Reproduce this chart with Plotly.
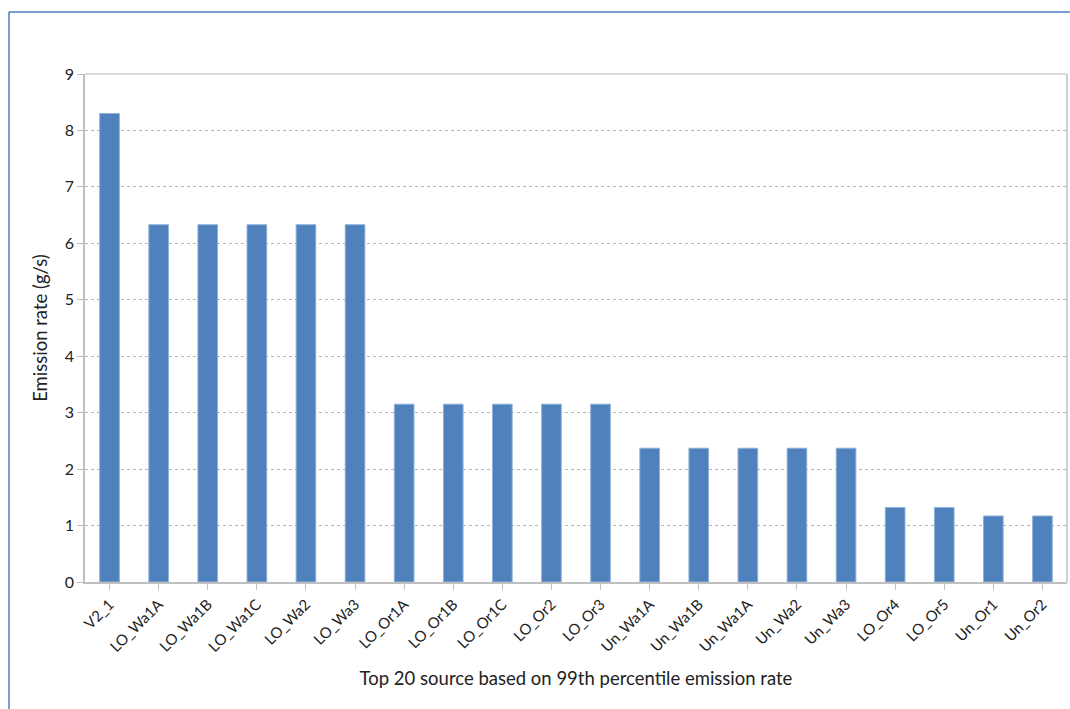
import plotly.graph_objects as go

sources = ["V2_1", "LO_Wa1A", "LO_Wa1B", "LO_Wa1C", "LO_Wa2", "LO_Wa3",
           "LO_Or1A", "LO_Or1B", "LO_Or1C", "LO_Or2", "LO_Or3",
           "Un_Wa1A", "Un_Wa1B", "Un_Wa1A ", "Un_Wa2", "Un_Wa3",
           "LO_Or4", "LO_Or5", "Un_Or1", "Un_Or2"]
emission_rate = [8.30, 6.33, 6.33, 6.33, 6.33, 6.33,
                 3.15, 3.15, 3.15, 3.15, 3.15,
                 2.37, 2.37, 2.37, 2.37, 2.37,
                 1.32, 1.32, 1.17, 1.17]
y_ticks = [0, 1, 2, 3, 4, 5, 6, 7, 8, 9]

FONT = "Lato, 'Open Sans', sans-serif"

fig = go.Figure(go.Bar(
    x=list(range(len(sources))),
    y=emission_rate,
    marker=dict(color="#4F81BD", line=dict(color="#8fb0d8", width=1)),
))

fig.update_layout(
    width=1070, height=709,
    margin=dict(l=85, r=3, t=74, b=127),
    paper_bgcolor="white", plot_bgcolor="white",
    bargap=0.6,
    showlegend=False,
    font=dict(family=FONT, color="#222222"),
    xaxis=dict(
        tickmode="array",
        tickvals=list(range(len(sources))),
        ticktext=[s.strip() for s in sources],
        tickangle=-45,
        tickfont=dict(size=15),
        range=[-0.5, len(sources) - 0.5],
        showline=True, linecolor="#bfbfbf", linewidth=1.5,
        mirror=False,
        ticks="outside", tickson="boundaries", ticklen=6, tickcolor="#bfbfbf",
        showgrid=False,
        title=dict(text="Top 20 source based on 99th percentile emission rate",
                   font=dict(size=18.5), standoff=18),
    ),
    yaxis=dict(
        range=[0, 9],
        tickvals=y_ticks,
        tickfont=dict(size=16),
        showline=True, linecolor="#bfbfbf", linewidth=1.5,
        ticks="outside", ticklen=6, tickcolor="#bfbfbf",
        showgrid=True, gridcolor="#b5b5b5", griddash="dot", gridwidth=1,
        zeroline=False,
        title=dict(text="Emission rate (g/s)", font=dict(size=18.5), standoff=12),
    ),
    shapes=[
        # plot area border (top and right)
        dict(type="line", xref="paper", yref="paper", x0=0, x1=1, y0=1, y1=1,
             line=dict(color="#d0d0d0", width=1.5)),
        dict(type="line", xref="paper", yref="paper", x0=1, x1=1, y0=0, y1=1,
             line=dict(color="#bfbfbf", width=1.5)),
        # outer chart frame (left and top)
        dict(type="line", xref="paper", yref="paper",
             x0=(9 - 85) / 982, x1=(9 - 85) / 982, y0=-0.3, y1=(582 - 12) / 508,
             line=dict(color="#4a7ebb", width=1.5)),
        dict(type="line", xref="paper", yref="paper",
             x0=(9 - 85) / 982, x1=1.01, y0=(582 - 12) / 508, y1=(582 - 12) / 508,
             line=dict(color="#4a7ebb", width=1.5)),
    ],
)

fig.write_html("out.html")
